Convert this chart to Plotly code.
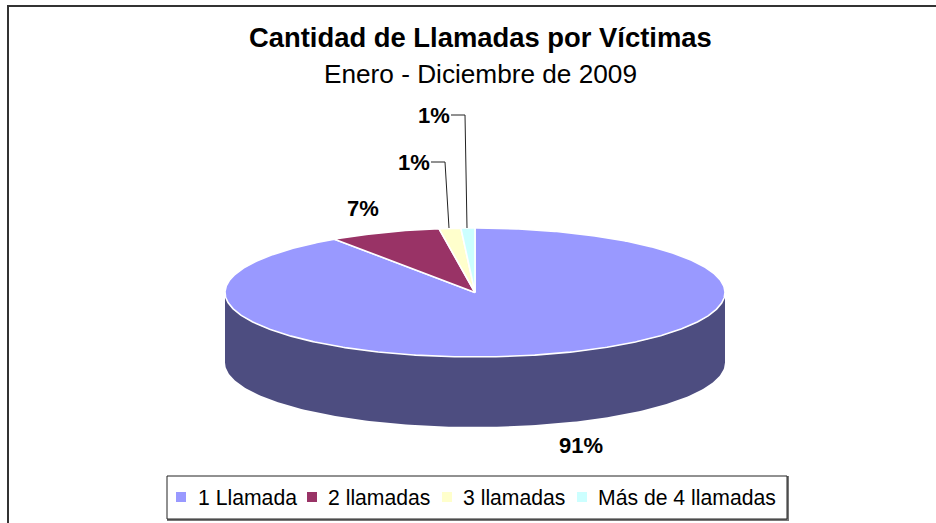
import numpy as np
import plotly.graph_objects as go

TITLE = "Cantidad de Llamadas por Víctimas"
SUBTITLE = "Enero - Diciembre de 2009"
categories = ["1 Llamada", "2 llamadas", "3 llamadas", "Más de 4 llamadas"]
values = [90.5, 7.2, 1.4, 0.9]
labels = ["91%", "7%", "1%", "1%"]
colors = ["#9999FF", "#993366", "#FFFFCC", "#CCFFFF"]
WALL = "#4D4D80"

CX, CY, RX, RY, DEPTH = 475, 292.5, 250, 64.5, 70
FONT = "Liberation Sans"


def rim(t):
    t = np.radians(t)
    return CX + RX * np.sin(t), CY - RY * np.cos(t)


fig = go.Figure()

# side wall (front half of the disc)
t = np.linspace(90, 270, 181)
xr, yr = rim(t)
fig.add_trace(go.Scatter(
    x=np.r_[xr, xr[::-1]], y=np.r_[yr, yr[::-1] + DEPTH],
    fill="toself", fillcolor=WALL, mode="lines", line=dict(width=0),
    showlegend=False, hoverinfo="skip"))

# top faces, built from the values
edges = np.r_[0, np.cumsum(values)] / sum(values) * 360
for i, cat in enumerate(categories):
    t = np.linspace(edges[i], edges[i + 1], max(int(edges[i + 1] - edges[i]) * 2, 6))
    xr, yr = rim(t)
    fig.add_trace(go.Scatter(
        x=np.r_[CX, xr, CX], y=np.r_[CY, yr, CY],
        fill="toself", fillcolor=colors[i], mode="lines",
        line=dict(color="white", width=1.6), showlegend=False,
        name=cat, text=f"{cat}: {labels[i]}", hoverinfo="text"))

# leader lines to the two small slices
fig.add_trace(go.Scatter(x=[431, 445, 449], y=[162, 162, 228], mode="lines",
                         line=dict(color="#222222", width=1), showlegend=False, hoverinfo="skip"))
fig.add_trace(go.Scatter(x=[451, 465, 467], y=[115, 115, 228], mode="lines",
                         line=dict(color="#222222", width=1), showlegend=False, hoverinfo="skip"))

# legend keys and names, placed in the boxed strip under the pie
key_x = [181, 312, 447, 582]
name_x = [198, 328, 463, 598]
LEGEND_Y = 497
fig.add_trace(go.Scatter(x=key_x, y=[LEGEND_Y] * 4, mode="markers", showlegend=False,
                         marker=dict(symbol="square", size=10, color=colors, line=dict(width=0)),
                         text=categories, hoverinfo="text"))

label_pos = [(581, 445), (363, 208), (414, 162), (434, 115)]
annotations = [dict(x=x, y=y, text=f"<b>{l}</b>", showarrow=False, xref="x", yref="y",
                    font=dict(family=FONT, size=22, color="black"))
               for (x, y), l in zip(label_pos, labels)]
annotations += [
    dict(x=480, y=37, text=f"<b>{TITLE}</b>", showarrow=False, xref="x", yref="y",
         font=dict(family=FONT, size=27.4, color="black")),
    dict(x=480, y=74, text=SUBTITLE, showarrow=False, xref="x", yref="y",
         font=dict(family=FONT, size=26.2, color="black")),
]
annotations += [dict(x=x, y=LEGEND_Y, text=c, showarrow=False, xref="x", yref="y", xanchor="left",
                     xshift=-2, font=dict(family=FONT, size=21.2, color="black"))
                for x, c in zip(name_x, categories)]

fig.update_layout(
    width=936, height=523, margin=dict(l=0, r=0, t=0, b=0, pad=0, autoexpand=False),
    paper_bgcolor="white", plot_bgcolor="white", showlegend=False,
    xaxis=dict(range=[0, 936], visible=False, fixedrange=True),
    yaxis=dict(range=[523, 0], visible=False, fixedrange=True),
    annotations=annotations,
    shapes=[
        dict(type="rect", x0=8, y0=6, x1=960, y1=560, xref="x", yref="y",
             line=dict(color="#333333", width=2), layer="below"),
        dict(type="rect", x0=168, y0=477, x1=788, y1=520, xref="x", yref="y",
             line=dict(color="#777777", width=2), fillcolor="white", layer="below"),
        dict(type="rect", x0=167, y0=476, x1=787, y1=519, xref="x", yref="y",
             line=dict(color="#222222", width=1), fillcolor="white", layer="below"),
    ],
)
fig.write_html("out.html", config={"displayModeBar": False},
               post_script="document.body.style.margin='0';")
